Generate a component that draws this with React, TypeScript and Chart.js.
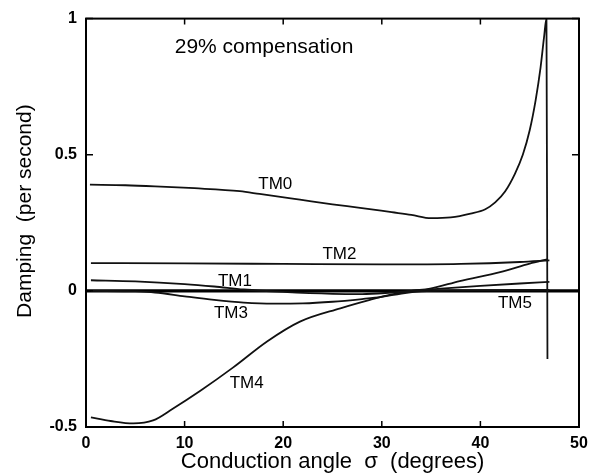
import React, { useEffect, useRef } from "react";
import { Chart, registerables } from "chart.js";

Chart.register(...registerables);

// ---- Data ----
const tm0X = [0.4, 4, 7, 11, 15.6, 17.6, 21.7, 25, 27.8, 31, 33, 35, 37, 39, 40.5, 41.5, 42.5, 43.5, 44.3, 45, 45.6, 46.1, 46.45, 46.7, 46.8];
const tm0Y = [0.39, 0.388, 0.384, 0.377, 0.366, 0.356, 0.335, 0.318, 0.305, 0.289, 0.279, 0.267, 0.27, 0.284, 0.3, 0.325, 0.365, 0.43, 0.5, 0.59, 0.7, 0.82, 0.93, 1.0, -0.25];

const tm1X = [0.5, 5, 10, 13, 16, 20, 25, 28, 31, 33, 36, 40, 44, 47];
const tm1Y = [0.039, 0.035, 0.025, 0.016, 0.005, -0.004, -0.011, -0.012, -0.006, 0.0, 0.008, 0.018, 0.027, 0.033];

const tm2X = [0.5, 10, 20, 30, 38, 44, 47];
const tm2Y = [0.102, 0.101, 0.099, 0.097, 0.099, 0.106, 0.112];

const tm3X = [0.5, 5, 7, 10, 13, 16, 19, 22, 25, 28, 30, 32, 34, 37, 42, 47];
const tm3Y = [0.0, -0.002, -0.006, -0.02, -0.033, -0.043, -0.047, -0.046, -0.04, -0.03, -0.022, -0.01, -0.002, 0.002, 0.003, 0.004];

const tm4X = [0.5, 2.5, 4.8, 6.8, 8.8, 11.6, 14.9, 18.4, 21.7, 25.8, 28.8, 31, 33, 34.9, 37.9, 42, 45, 46.8];
const tm4Y = [-0.465, -0.478, -0.487, -0.476, -0.433, -0.367, -0.282, -0.185, -0.113, -0.064, -0.033, -0.013, 0.0, 0.008, 0.036, 0.069, 0.1, 0.116];

const tm5X = [0, 50];
const tm5Y = [0, 0];

const seriesNames = ["TM0", "TM1", "TM2", "TM3", "TM4", "TM5"];
const labelX = [19.2, 15.1, 25.7, 14.7, 16.3, 43.5];
const labelY = [0.39, 0.036, 0.134, -0.084, -0.338, -0.044];

const xTicks = [0, 10, 20, 30, 40, 50];
const yTicks = [-0.5, 0, 0.5, 1];
const yTickLabels = ["-0.5", "0", "0.5", "1"];

const noteText = "29% compensation";
const noteX = 9.0;
const noteY = 0.894;

const xTitle = "Conduction angle  \u03c3  (degrees)";
const yTitle = "    Damping  (per second)";

const FONT = "'Liberation Sans', Arial, Helvetica, sans-serif";

function pts(xs: number[], ys: number[]) {
  return xs.map((x, i) => ({ x, y: ys[i] }));
}

const overlayPlugin = {
  id: "overlay",
  afterDatasetsDraw(chart: any) {
    const { ctx, chartArea, scales } = chart;
    const { left, right, top, bottom } = chartArea;
    const xs = scales.x;
    const ys = scales.y;
    ctx.save();
    ctx.strokeStyle = "#000";
    ctx.lineWidth = 2;
    ctx.strokeRect(left, top, right - left, bottom - top);
    ctx.lineWidth = 1.5;
    xTicks.forEach((v) => {
      const px = xs.getPixelForValue(v);
      ctx.beginPath();
      ctx.moveTo(px, bottom);
      ctx.lineTo(px, bottom - 6);
      ctx.moveTo(px, top);
      ctx.lineTo(px, top + 6);
      ctx.stroke();
    });
    yTicks.forEach((v) => {
      const py = ys.getPixelForValue(v);
      ctx.beginPath();
      ctx.moveTo(left, py);
      ctx.lineTo(left + 7, py);
      ctx.moveTo(right, py);
      ctx.lineTo(right - 7, py);
      ctx.stroke();
    });
    ctx.fillStyle = "#000";
    ctx.textAlign = "center";
    ctx.textBaseline = "middle";
    ctx.font = `17px ${FONT}`;
    seriesNames.forEach((n, i) => {
      ctx.fillText(n, xs.getPixelForValue(labelX[i]), ys.getPixelForValue(labelY[i]));
    });
    ctx.textAlign = "left";
    ctx.font = `21px ${FONT}`;
    ctx.fillText(noteText, xs.getPixelForValue(noteX), ys.getPixelForValue(noteY));
    ctx.restore();
  },
};

export default function App() {
  const ref = useRef<HTMLCanvasElement | null>(null);
  useEffect(() => {
    if (!ref.current) return;
    const lineStyle = {
      borderColor: "#111",
      borderWidth: 1.8,
      pointRadius: 0,
      fill: false,
      cubicInterpolationMode: "monotone" as const,
    };
    const chart = new Chart(ref.current, {
      type: "line",
      data: {
        datasets: [
          { label: "TM0", data: pts(tm0X, tm0Y), ...lineStyle },
          { label: "TM1", data: pts(tm1X, tm1Y), ...lineStyle },
          { label: "TM2", data: pts(tm2X, tm2Y), ...lineStyle },
          { label: "TM3", data: pts(tm3X, tm3Y), ...lineStyle },
          { label: "TM4", data: pts(tm4X, tm4Y), ...lineStyle },
          { label: "TM5", data: pts(tm5X, tm5Y), ...lineStyle, borderWidth: 3.2, borderColor: "#000" },
        ],
      },
      options: {
        responsive: false,
        animation: false,
        layout: { padding: { top: 14, right: 19, left: 0, bottom: 0 } },
        plugins: { legend: { display: false }, tooltip: { enabled: false } },
        scales: {
          x: {
            type: "linear",
            min: 0,
            max: 50,
            afterFit: (s: any) => {
              s.height = 49;
            },
            afterBuildTicks: (s: any) => {
              s.ticks = xTicks.map((v) => ({ value: v }));
            },
            grid: { display: false, drawTicks: false },
            border: { display: false },
            ticks: {
              color: "#000",
              padding: 7,
              maxRotation: 0,
              font: { family: FONT, size: 16, weight: "bold" },
            },
            title: {
              display: true,
              text: xTitle,
              color: "#000",
              padding: { top: 0, bottom: 1 },
              font: { family: FONT, size: 22 },
            },
          },
          y: {
            type: "linear",
            min: -0.5,
            max: 1,
            afterFit: (s: any) => {
              s.width = 86;
            },
            afterBuildTicks: (s: any) => {
              s.ticks = yTicks.map((v) => ({ value: v }));
            },
            grid: { display: false, drawTicks: false },
            border: { display: false },
            ticks: {
              color: "#000",
              padding: 9,
              font: { family: FONT, size: 16, weight: "bold" },
              callback: (v: any) => {
                const i = yTicks.indexOf(Number(v));
                return i >= 0 ? yTickLabels[i] : "";
              },
            },
            title: {
              display: true,
              text: yTitle,
              color: "#000",
              padding: { top: 13, bottom: 0 },
              font: { family: FONT, size: 21 },
            },
          },
        },
      },
      plugins: [overlayPlugin],
    });
    return () => chart.destroy();
  }, []);
  return (
    <div style={{ position: "fixed", left: 0, top: 0, width: 598, height: 476, background: "#fff" }}>
      <canvas ref={ref} width={598} height={476} style={{ display: "block" }} />
    </div>
  );
}
